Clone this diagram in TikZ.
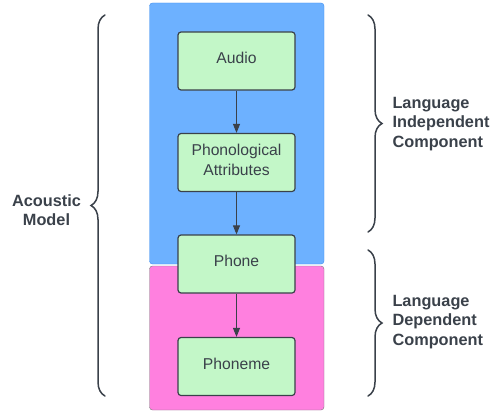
\documentclass[tikz,border=0pt]{standalone}
\usepackage{fontspec}
\setmainfont{Liberation Sans}
\usepackage{xcolor}
\usetikzlibrary{arrows.meta}
\usetikzlibrary{decorations.pathreplacing}

\definecolor{ink}{HTML}{3A414A}
\definecolor{bluezone}{HTML}{6DB1FF}
\definecolor{blueline}{HTML}{3D8DF0}
\definecolor{pinkzone}{HTML}{FF80DF}
\definecolor{pinkline}{HTML}{7A7A7A}
\definecolor{boxfill}{HTML}{C3F7C8}

\tikzset{
    stage/.style={draw=ink, fill=boxfill, line width=1.2pt, rounded corners=3pt,
        minimum width=117pt, minimum height=58pt, inner sep=0pt, align=center,
        text depth=6pt, text=ink, font=\fontsize{15.7}{20}\selectfont},
    flow/.style={draw=ink, line width=1pt, -{Triangle[length=9pt,width=7pt]}},
    curly/.style={draw=ink, line width=1.5pt, line cap=round, decorate,
        decoration={brace, amplitude=14pt}},
    tag/.style={text=ink, font=\bfseries\fontsize{16.3}{19.5}\selectfont}
}

\begin{document}
\begin{tikzpicture}[x=1pt,y=-1pt]
        \useasboundingbox (0,0) rectangle (492,412);

        \filldraw[fill=bluezone, draw=blueline, rounded corners=3pt] (149.5,3) rectangle (324,264);
        \filldraw[fill=pinkzone, draw=pinkline, rounded corners=3pt] (149.5,266) rectangle (324,410);

        \node[stage] (audio) at (236.5,61) {Audio};
        \node[stage] (attr) at (236.5,162.5) {Phonological\\Attributes};
        \node[stage] (phone) at (236.5,264) {Phone};
        \node[stage] (phoneme) at (236.5,366.5) {Phoneme};

        \draw[flow] (audio) -- (attr);
        \draw[flow] (attr) -- (phone);
        \draw[flow] (phone) -- (phoneme);

        \coordinate (am-bot) at (105,396);
        \coordinate (am-top) at (105,15);
        \coordinate (li-top) at (368,15);
        \coordinate (li-bot) at (368,232);
        \coordinate (ld-top) at (368,250);
        \coordinate (ld-bot) at (368,396);

        \draw[curly] (am-bot) -- (am-top);
        \draw[curly] (li-top) -- (li-bot);
        \draw[curly] (ld-top) -- (ld-bot);

        \node[tag, align=center] (am) at (46.5,210) {Acoustic\\Model};
        \node[tag, align=left, anchor=west] (li) at (389,124) {Language\\Independent\\Component};
        \node[tag, align=left, anchor=west] (ld) at (389,322) {Language\\Dependent\\Component};
    \end{tikzpicture}
\end{document}
